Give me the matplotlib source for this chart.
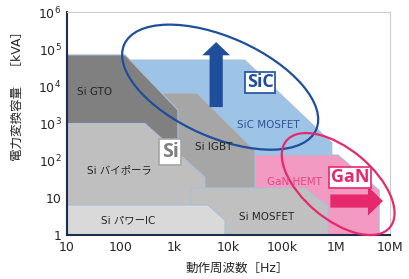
import matplotlib
matplotlib.use("Agg")
import matplotlib.pyplot as plt
from matplotlib.patches import Polygon, Ellipse
from matplotlib.transforms import ScaledTranslation

plt.rcParams['font.family'] = ['DejaVu Sans', 'Noto Sans CJK JP']

## Region outlines: (frequency [Hz], capacity [kVA]) vertices
sic_f   = [100, 2.0e4, 8.3e5, 8.3e5, 100]
sic_p   = [5.1e4, 5.1e4, 300, 1, 1]
gan_f   = [3.1e4, 1.08e6, 6.3e6, 6.3e6, 3.1e4]
gan_p   = [142, 142, 16, 1, 1]
igbt_f  = [400, 2600, 3.1e4, 3.1e4, 400]
igbt_p  = [6600, 6600, 190, 1, 1]
gto_f   = [10, 120, 1150, 1150, 10]
gto_p   = [7.0e4, 7.0e4, 2300, 1, 1]
bip_f   = [10, 280, 3660, 3660, 10]
bip_p   = [1000, 1000, 36, 1, 1]
smos_f  = [2000, 2.64e5, 7.06e5, 7.06e5, 2000]
smos_p  = [18.4, 18.4, 6.0, 1, 1]
pic_f   = [10, 4160, 8600, 8600, 10]
pic_p   = [6.4, 6.4, 2.5, 1, 1]

xticks  = [10, 100, 1e3, 1e4, 1e5, 1e6, 1e7]
xlabels = ['10', '100', '1k', '10k', '100k', '1M', '10M']
yticks  = [1, 10, 1e2, 1e3, 1e4, 1e5, 1e6]
ylabels = ['1', '10', r'$10^2$', r'$10^3$', r'$10^4$', r'$10^5$', r'$10^6$']

navy = '#1f4e9c'
pink = '#e6296c'
edge = '#a9bfd9'

fig = plt.figure(figsize=(4.1, 2.79), dpi=100)
ax  = fig.add_axes([67/410, 44/279, 323/410, 223/279])
ax.set_xscale('log')
ax.set_yscale('log')
ax.set_xlim(10, 1e7)
ax.set_ylim(1, 1e6)

## regions, back to front
regions = [(sic_f, sic_p, '#9dc3e6'),
           (gan_f, gan_p, '#f29ac2'),
           (igbt_f, igbt_p, '#a6a6a6'),
           (gto_f, gto_p, '#808080'),
           (bip_f, bip_p, '#bfbfbf'),
           (smos_f, smos_p, '#c0c0c0'),
           (pic_f, pic_p, '#d9d9d9')]
for i, (f, p, c) in enumerate(regions):
    ax.add_patch(Polygon(list(zip(f, p)), closed=True, fc=c, ec=edge, lw=0.8, zorder=1 + i*0.1))

## region names
lab = dict(fontsize=7.5, ha='center', va='center', zorder=8)
ax.text(32, 6950, 'Si GTO', color='#262626', **lab)
ax.text(92, 56, 'Si バイポーラ', color='#262626', **lab)
ax.text(136, 2.5, 'Si パワーIC', color='#262626', **lab)
ax.text(5200, 232, 'Si IGBT', color='#262626', **lab)
ax.text(5.4e4, 905, 'SiC MOSFET', color='#2f5597', **lab)
ax.text(1.7e5, 26.6, 'GaN HEMT', color='#e8477f', **lab)
ax.text(5.0e4, 3.05, 'Si MOSFET', color='#262626', **lab)

## ellipses (size in inches, centred on a data point)
def ring(cx, cy, w, h, ang, color):
    tr = fig.dpi_scale_trans + ScaledTranslation(cx, cy, ax.transData)
    e = Ellipse((0, 0), w, h, angle=ang, fill=False, ec=color, lw=1.6,
                transform=tr, clip_on=False, zorder=6)
    ax.add_artist(e)

ring(7.0e3, 9.5e3, 2.1, 1.0, -24, navy)
ring(1.09e6, 23.5, 1.35, 0.70, -40, pink)

## arrows
ax.annotate('', xy=(5900, 1.55e5), xytext=(5900, 2770),
            arrowprops=dict(arrowstyle='simple,head_length=0.95,head_width=2.0,tail_width=0.95',
                            mutation_scale=10, fc=navy, ec='none', shrinkA=0, shrinkB=0),
            zorder=7)
ax.annotate('', xy=(7.4e6, 8.2), xytext=(7.8e5, 8.2),
            arrowprops=dict(arrowstyle='simple,head_length=1.08,head_width=2.1,tail_width=0.95',
                            mutation_scale=10, fc=pink, ec='none', shrinkA=0, shrinkB=0),
            zorder=7)

## boxed labels
ax.text(3.86e4, 1.3e4, 'SiC', fontsize=13, fontweight='bold', color=navy,
        ha='center', va='center', zorder=9, family=['Open Sans'],
        bbox=dict(boxstyle='square,pad=0.08', fc='white', ec=navy, lw=1.2))
ax.text(822, 170, 'Si', fontsize=14, fontweight='bold', color='#7f7f7f',
        ha='center', va='center', zorder=9, family=['Open Sans'],
        bbox=dict(boxstyle='square,pad=0.15', fc='white', ec='#a6a6a6', lw=1.2))
ax.text(1.82e6, 36, 'GaN', fontsize=13, fontweight='bold', color=pink,
        ha='center', va='center', zorder=9, family=['Open Sans'],
        bbox=dict(boxstyle='square,pad=0.08', fc='white', ec=pink, lw=1.2))

## axes styling
ax.minorticks_off()
ax.set_xticks(xticks)
ax.set_xticklabels(xlabels)
ax.set_yticks(yticks)
ax.set_yticklabels(ylabels)
ax.tick_params(length=0, labelsize=9, labelcolor='#262626', pad=4)
for s in ['left', 'bottom']:
    ax.spines[s].set_color('#1f2d4d')
    ax.spines[s].set_linewidth(1.5)
for s in ['top', 'right']:
    ax.spines[s].set_color('#cccccc')
    ax.spines[s].set_linewidth(0.8)

ax.text(0.526, -0.148, '動作周波数［Hz］', transform=ax.transAxes, ha='center', va='center',
        fontsize=9, color='#262626')
ax.text(-0.155, 0.637, '電力変換容量　［kVA］', transform=ax.transAxes, ha='center', va='center',
        rotation=90, fontsize=9, color='#262626')

fig.savefig('out.png', dpi=100)
